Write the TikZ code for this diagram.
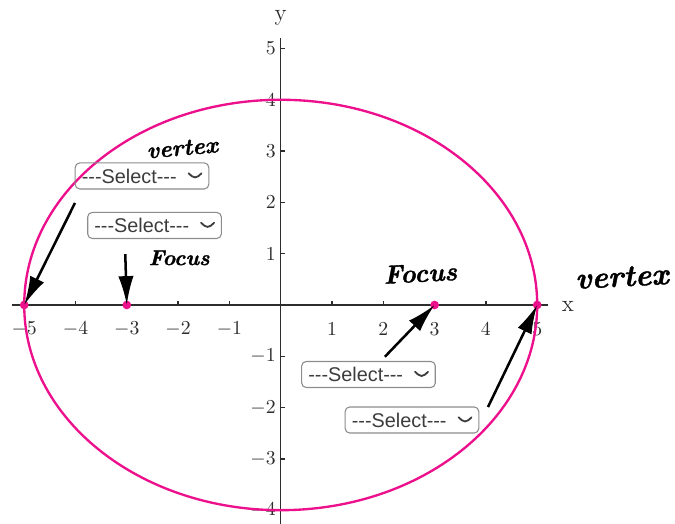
\documentclass[tikz,border=0pt]{standalone}
\usepackage{fontspec}
\usepackage{tikz}
\usetikzlibrary{arrows.meta}
\newfontfamily\selfont{Liberation Sans}
\newfontfamily\handfont{Latin Modern Roman}[FakeBold=1.3]
\definecolor{ellpink}{RGB}{236,16,140}
\definecolor{axgray}{RGB}{45,45,45}
\definecolor{boxgray}{RGB}{140,140,140}
\definecolor{seltext}{RGB}{60,60,60}

\begin{document}
\begin{tikzpicture}[x=1cm,y=1cm,
    ticklab/.style={font=\fontsize{11}{13}\selectfont, text=axgray, inner sep=2pt},
    axlab/.style={font=\fontsize{13}{15}\selectfont, text=axgray, inner sep=0pt},
    dot/.style={circle, fill=ellpink, inner sep=0pt, minimum size=0.17cm},
    selectbox/.style={draw=boxgray, line width=0.6pt, rounded corners=2.5pt,
      inner xsep=3.7pt, inner ysep=0pt, text width=66.7pt, align=left,
      minimum height=0.507cm, text=seltext, font=\selfont\fontsize{11}{13}\selectfont,
      path picture={\draw[seltext, line width=1pt, line cap=round, line join=round]
        ([xshift=-11.2pt,yshift=1.5pt]path picture bounding box.east) -- ++(3.6pt,-3.3pt) -- ++(3.6pt,3.3pt);}},
    hand/.style={font=\handfont\fontsize{#1}{#1}\selectfont\bfseries\itshape, inner sep=0pt},
    pointer/.style={-{Latex[length=16pt,width=8.5pt]}, line width=1.4pt}]
  \useasboundingbox (-5.472,-4.269) rectangle (7.686,5.945);
  % axes and ticks
  \draw[axgray, line width=0.7pt] (-5.23,0) -- (5.21,0);
  \draw[axgray, line width=0.7pt] (0,-4.269) -- (0,5.2);
  \foreach \t in {-5,...,-1,1,2,...,5} {
    \draw[axgray, line width=0.7pt] (\t,0) -- (\t,0.08);
    \node[ticklab] (xt\t) at (\t,-0.47) {$\t$};
  }
  \foreach \t in {-4,...,-1,1,2,...,5} {
    \draw[axgray, line width=0.7pt] (0,\t) -- (0.08,\t);
    \node[ticklab, anchor=east] (yt\t) at (-0.02,\t) {$\t$};
  }
  \node[axlab] (xlab) at (5.6,-0.02) {x};
  \node[axlab] (ylab) at (0,5.6) {y};
  % the ellipse and its points
  \draw[ellpink, line width=1.3pt] (0,0) ellipse (5 and 4);
  \foreach \n/\x in {vL/-5, fL/-3, fR/3, vR/5}
    \node[dot] (\n) at (\x,0) {};
  % drop-downs
  \node[selectbox] (selVL) at (-2.704,2.515) {---Select---};
  \node[selectbox] (selFL) at (-2.46,1.55) {---Select---};
  \node[selectbox] (selFR) at (1.711,-1.355) {---Select---};
  \node[selectbox] (selVR) at (2.559,-2.242) {---Select---};
  \coordinate (tVL) at (-4.01,1.99);
  \coordinate (tFL) at (-3.03,0.99);
  \coordinate (tFR) at (2.03,-1.01);
  \coordinate (tVR) at (4.04,-1.99);
  \draw[pointer] (tVL) -- (vL.center);
  \draw[pointer] (tFL) -- (fL.center);
  \draw[pointer] (tFR) -- (fR.center);
  \draw[pointer] (tVR) -- (vR.center);
  % handwriting
  \node[hand=13, rotate=5] (hVL) at (-1.92,3.06) {vertex};
  \node[hand=12] (hFL) at (-1.98,0.92) {Focus};
  \node[hand=14.5, rotate=3] (hFR) at (2.72,0.62) {Focus};
  \node[hand=17, rotate=3] (hVR) at (6.65,0.55) {vertex};
\end{tikzpicture}
\end{document}
